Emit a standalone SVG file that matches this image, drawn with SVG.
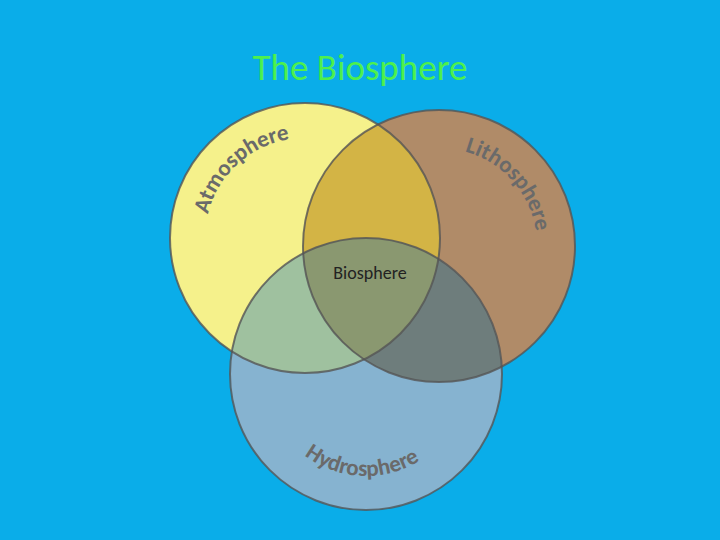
<svg xmlns="http://www.w3.org/2000/svg" xmlns:xlink="http://www.w3.org/1999/xlink" width="720" height="540" viewBox="0 0 720 540">
<defs>
<clipPath id="cA"><circle cx="305" cy="238" r="135"/></clipPath>
<clipPath id="cL"><circle cx="439" cy="246" r="136"/></clipPath>
<clipPath id="cH"><circle cx="366" cy="374" r="136"/></clipPath>
<path id="pA" d="M 205,238 A 100 100 0 0 1 405,238"/>
<path id="pL" d="M 439,148 A 98 98 0 0 1 537,246"/>
<path id="pH" d="M 264,374 A 102 102 0 0 0 468,374"/>
</defs>
<style>
.lab{font-family:Carlito,"Liberation Sans",Arial,sans-serif;font-weight:bold;fill:#6a6a6a;font-size:23px}
.ring{fill:none;stroke:#555;stroke-width:2;opacity:0.8}
</style>
<rect width="720" height="540" fill="#0AADE9"/>
<text x="360" y="80" text-anchor="middle" font-family="Carlito,'Liberation Sans',sans-serif" font-size="37" fill="#4DF04D">The Biosphere</text>
<g id="atmosphere"><circle cx="305" cy="238" r="135" fill="#F5F18B"/></g>
<g id="lithosphere"><circle cx="439" cy="246" r="136" fill="#B08B68"/></g>
<g id="hydrosphere"><circle cx="366" cy="374" r="136" fill="#86B3D0"/></g>
<g id="overlaps">
<g clip-path="url(#cA)"><circle cx="439" cy="246" r="136" fill="#D3B445"/><circle cx="366" cy="374" r="136" fill="#9FC19F"/></g>
<g clip-path="url(#cL)"><circle cx="366" cy="374" r="136" fill="#6E7D7C"/></g>
<g clip-path="url(#cA)"><g clip-path="url(#cL)"><circle cx="366" cy="374" r="136" fill="#8A9870"/></g></g>
</g>
<g id="outlines">
<circle class="ring" cx="305" cy="238" r="135"/>
<circle class="ring" cx="439" cy="246" r="136"/>
<circle class="ring" cx="366" cy="374" r="136"/>
</g>
<text class="lab"><textPath xlink:href="#pA" href="#pA" startOffset="24">Atmosphere</textPath></text>
<text class="lab"><textPath xlink:href="#pL" href="#pL" startOffset="26">Lithosphere</textPath></text>
<text class="lab"><textPath xlink:href="#pH" href="#pH" startOffset="94">Hydrosphere</textPath></text>
<g id="biosphere"><text x="370" y="279" text-anchor="middle" font-family="Carlito,'Liberation Sans',sans-serif" font-size="18" fill="#222">Biosphere</text></g>
</svg>
